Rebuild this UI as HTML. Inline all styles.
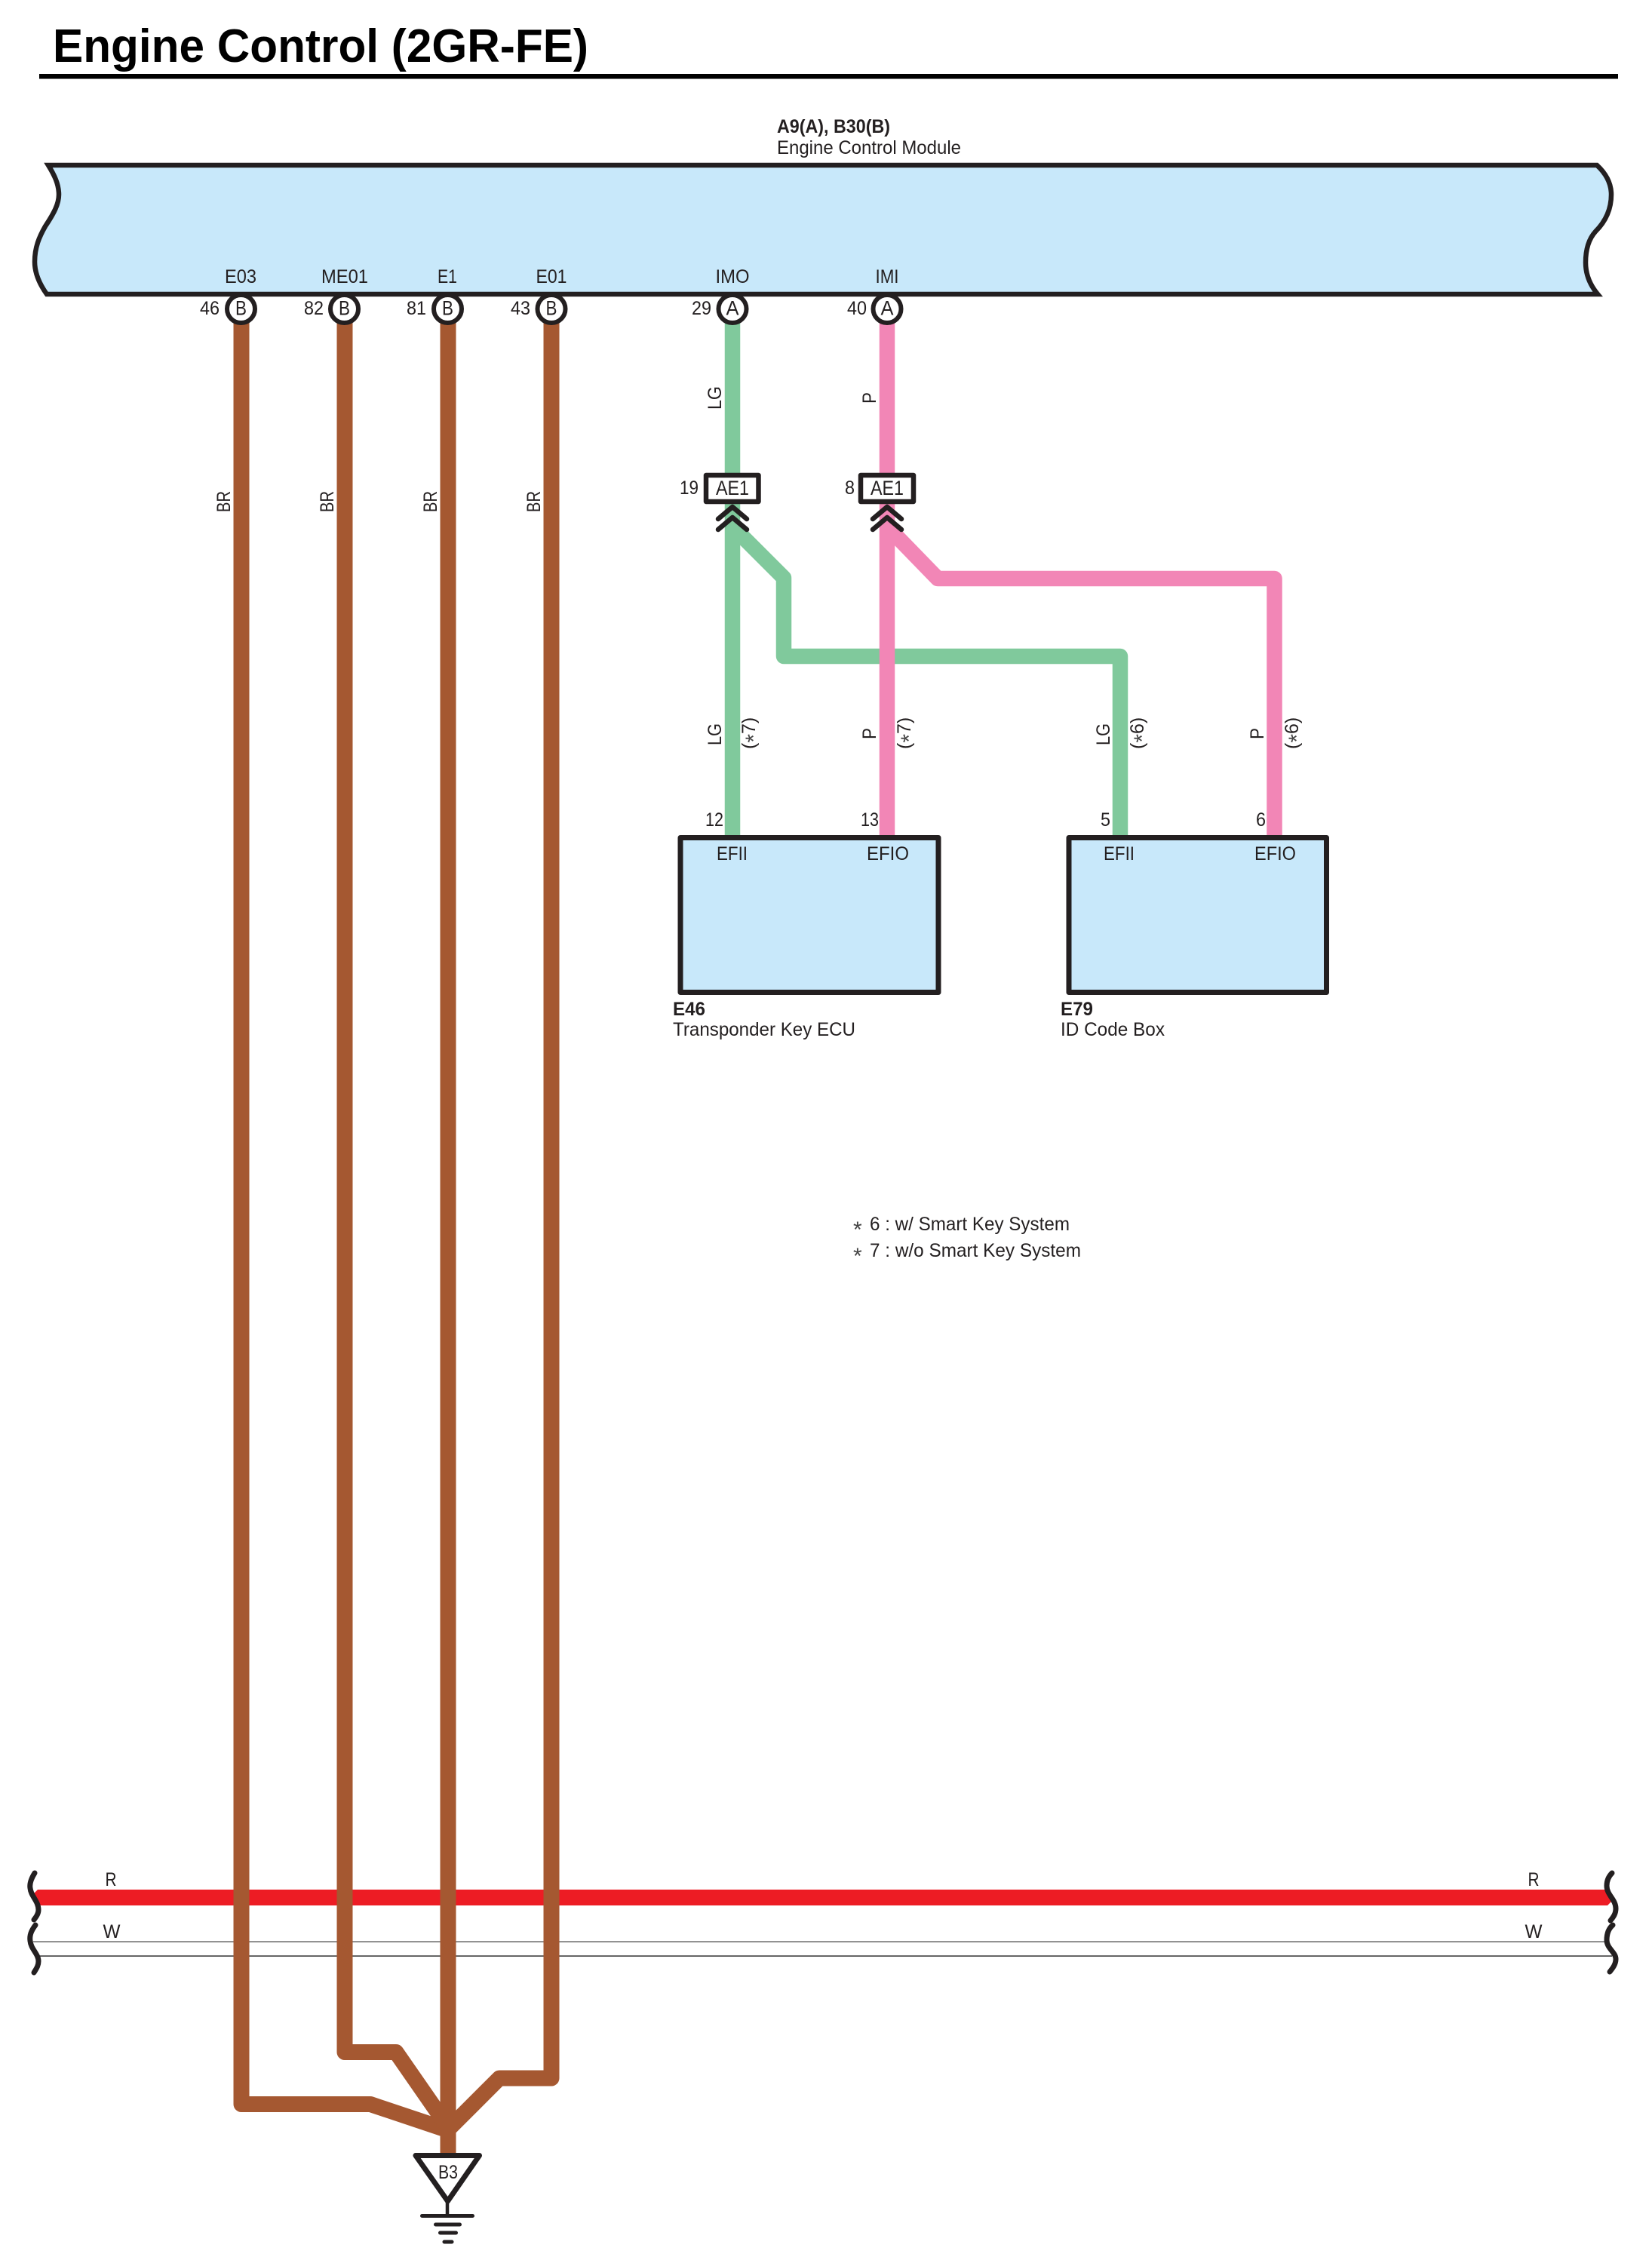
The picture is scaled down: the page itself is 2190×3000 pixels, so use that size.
<!DOCTYPE html>
<html><head><meta charset="utf-8"><title>Engine Control (2GR-FE)</title>
<style>
html,body{margin:0;padding:0;background:#fff}
svg{display:block}
text{font-family:"Liberation Sans",Arial,sans-serif;font-size:25px;fill:#231f20}
.b{font-weight:bold}
.m{text-anchor:middle}
.w{fill:none;stroke-linejoin:round;stroke-linecap:butt}
.br{stroke:#a55831;stroke-width:21}
.g{stroke:#80c99c;stroke-width:20.5}
.p{stroke:#f286b6;stroke-width:20.5}
.k{fill:none;stroke:#231f20;stroke-linecap:round;stroke-linejoin:round}
.pin{fill:#fff;stroke:#231f20;stroke-width:6}
</style></head><body>
<svg xmlns="http://www.w3.org/2000/svg" width="2190" height="3000" viewBox="0 0 2190 3000">
<rect width="2190" height="3000" fill="#fff"/>

<!-- Title -->
<text x="70" y="82" class="b" style="font-size:62px;fill:#000" textLength="710" lengthAdjust="spacingAndGlyphs">Engine Control (2GR-FE)</text>
<rect x="52" y="98" width="2093" height="6.5" fill="#000"/>

<!-- ECM -->
<text x="1030" y="176" class="b" textLength="150" lengthAdjust="spacingAndGlyphs">A9(A), B30(B)</text>
<text x="1030" y="204" textLength="244" lengthAdjust="spacingAndGlyphs">Engine Control Module</text>
<path d="M64 219 H2117 C2130 231 2136 244 2136 258 C2136 280 2126 296 2115 307 C2106 317 2102 332 2102 348 C2102 364 2108 378 2118 390 H62 C52 376 46 362 46 347 C46 328 52 314 60 300 C72 282 78 270 78 258 C78 244 72 232 64 219 Z" fill="#c8e8fa" stroke="#231f20" stroke-width="6.5" stroke-linejoin="miter"/>

<text x="319" y="375" class="m" textLength="42" lengthAdjust="spacingAndGlyphs">E03</text>
<text x="457" y="375" class="m" textLength="62" lengthAdjust="spacingAndGlyphs">ME01</text>
<text x="593" y="375" class="m" textLength="26" lengthAdjust="spacingAndGlyphs">E1</text>
<text x="731" y="375" class="m" textLength="41" lengthAdjust="spacingAndGlyphs">E01</text>
<text x="971" y="375" class="m" textLength="45" lengthAdjust="spacingAndGlyphs">IMO</text>
<text x="1176" y="375" class="m" textLength="31" lengthAdjust="spacingAndGlyphs">IMI</text>

<!-- Bus lines -->
<path d="M44 2511 L50 2505 H2130 L2137 2520 L2131 2526 H48 Z" fill="#ed1c24"/>
<rect x="44" y="2573.2" width="2084" height="1.8" fill="#808080"/>
<rect x="50" y="2592.3" width="2087" height="1.5" fill="#333"/>
<path class="k" stroke-width="7" d="M46 2483 C41 2491 39 2497 40 2503 C41 2514 51 2520 51 2532 C51 2537 48 2541 45 2545"/>
<path class="k" stroke-width="7" d="M47 2552 C41 2560 39 2566 40 2573 C41 2584 51 2590 51 2600 C51 2606 48 2610 45 2615"/>
<path class="k" stroke-width="7" d="M2137 2483 C2132 2488 2130 2494 2130 2500 C2130 2512 2142 2518 2142 2530 C2142 2537 2139 2541 2135 2546"/>
<path class="k" stroke-width="7" d="M2138 2552 C2132 2557 2130 2564 2130 2572 C2130 2583 2142 2588 2142 2597 C2142 2604 2138 2609 2134 2614"/>
<text x="147" y="2500" class="m" textLength="15" lengthAdjust="spacingAndGlyphs">R</text>
<text x="148" y="2569" class="m" textLength="23" lengthAdjust="spacingAndGlyphs">W</text>
<text x="2033" y="2500" class="m" textLength="15" lengthAdjust="spacingAndGlyphs">R</text>
<text x="2033" y="2569" class="m" textLength="23" lengthAdjust="spacingAndGlyphs">W</text>

<!-- Green / pink wires -->
<path class="w g" d="M971 420 V1107"/>
<path class="w g" d="M971 698 L1039 766 V870 H1485 V1107"/>
<path class="w p" d="M1176 420 V1107"/>
<path class="w p" d="M1176 698 L1243 767 H1689.5 V1107"/>

<!-- Brown wires -->
<path class="w br" d="M320 420 V2789.5 H491 L594 2824"/>
<path class="w br" d="M457 420 V2720.5 H525 L594 2820"/>
<path class="w br" d="M731 420 V2755 H662 L594 2823"/>
<path class="w br" d="M594 420 V2856"/>

<!-- Pins -->
<circle class="pin" cx="319.5" cy="409.5" r="18.5"/><circle class="pin" cx="456.5" cy="409.5" r="18.5"/>
<circle class="pin" cx="593.5" cy="409.5" r="18.5"/><circle class="pin" cx="731" cy="409.5" r="18.5"/>
<circle class="pin" cx="971" cy="409.5" r="18.5"/><circle class="pin" cx="1176" cy="409.5" r="18.5"/>
<text x="319.5" y="417.5" class="m" style="font-size:27px" textLength="15" lengthAdjust="spacingAndGlyphs">B</text>
<text x="456.5" y="417.5" class="m" style="font-size:27px" textLength="15" lengthAdjust="spacingAndGlyphs">B</text>
<text x="593.5" y="417.5" class="m" style="font-size:27px" textLength="15" lengthAdjust="spacingAndGlyphs">B</text>
<text x="731" y="417.5" class="m" style="font-size:27px" textLength="15" lengthAdjust="spacingAndGlyphs">B</text>
<text x="971" y="417.5" class="m" style="font-size:27px" textLength="17" lengthAdjust="spacingAndGlyphs">A</text>
<text x="1176" y="417.5" class="m" style="font-size:27px" textLength="17" lengthAdjust="spacingAndGlyphs">A</text>
<text x="265" y="417" textLength="26" lengthAdjust="spacingAndGlyphs">46</text>
<text x="403" y="417" textLength="26" lengthAdjust="spacingAndGlyphs">82</text>
<text x="539" y="417" textLength="26" lengthAdjust="spacingAndGlyphs">81</text>
<text x="677" y="417" textLength="26" lengthAdjust="spacingAndGlyphs">43</text>
<text x="917" y="417" textLength="26" lengthAdjust="spacingAndGlyphs">29</text>
<text x="1123" y="417" textLength="26" lengthAdjust="spacingAndGlyphs">40</text>

<!-- BR labels -->
<text transform="rotate(-90 305 679)" x="305" y="679" textLength="28" lengthAdjust="spacingAndGlyphs">BR</text>
<text transform="rotate(-90 442 679)" x="442" y="679" textLength="28" lengthAdjust="spacingAndGlyphs">BR</text>
<text transform="rotate(-90 579 679)" x="579" y="679" textLength="28" lengthAdjust="spacingAndGlyphs">BR</text>
<text transform="rotate(-90 716 679)" x="716" y="679" textLength="28" lengthAdjust="spacingAndGlyphs">BR</text>

<!-- Upper wire labels -->
<text transform="rotate(-90 956 543)" x="956" y="543" textLength="31" lengthAdjust="spacingAndGlyphs">LG</text>
<text transform="rotate(-90 1161 535)" x="1161" y="535" textLength="15" lengthAdjust="spacingAndGlyphs">P</text>

<!-- AE1 connectors -->
<rect x="936" y="630" width="69.5" height="35" fill="#fff" stroke="#231f20" stroke-width="6.5" stroke-linejoin="round"/>
<rect x="1141" y="630" width="70" height="35" fill="#fff" stroke="#231f20" stroke-width="6.5" stroke-linejoin="round"/>
<text x="971" y="656" class="m" textLength="44" lengthAdjust="spacingAndGlyphs" style="font-size:27px">AE1</text>
<text x="1176" y="656" class="m" textLength="44" lengthAdjust="spacingAndGlyphs" style="font-size:27px">AE1</text>
<text x="901" y="655" textLength="25" lengthAdjust="spacingAndGlyphs">19</text>
<text x="1120" y="655" textLength="13" lengthAdjust="spacingAndGlyphs">8</text>
<path class="k" stroke-width="6.5" stroke-linejoin="miter" d="M952 688 L971 672 L990 688 M952 702 L971 686 L990 702"/>
<path class="k" stroke-width="6.5" stroke-linejoin="miter" d="M1157 688 L1176 672 L1195 688 M1157 702 L1176 686 L1195 702"/>

<!-- Lower wire labels -->
<text transform="rotate(-90 956 988)" x="956" y="988" textLength="29" lengthAdjust="spacingAndGlyphs">LG</text>
<text transform="rotate(-90 1001 993)" x="1001" y="993">(<tspan dy="8" style="font-size:30px;fill:#444">*</tspan><tspan dy="-8">7)</tspan></text>
<text transform="rotate(-90 1161 980)" x="1161" y="980" textLength="15" lengthAdjust="spacingAndGlyphs">P</text>
<text transform="rotate(-90 1207 993)" x="1207" y="993">(<tspan dy="8" style="font-size:30px;fill:#444">*</tspan><tspan dy="-8">7)</tspan></text>
<text transform="rotate(-90 1471 988)" x="1471" y="988" textLength="29" lengthAdjust="spacingAndGlyphs">LG</text>
<text transform="rotate(-90 1516 993)" x="1516" y="993">(<tspan dy="8" style="font-size:30px;fill:#444">*</tspan><tspan dy="-8">6)</tspan></text>
<text transform="rotate(-90 1675 980)" x="1675" y="980" textLength="15" lengthAdjust="spacingAndGlyphs">P</text>
<text transform="rotate(-90 1721 993)" x="1721" y="993">(<tspan dy="8" style="font-size:30px;fill:#444">*</tspan><tspan dy="-8">6)</tspan></text>

<!-- Boxes -->
<rect x="902" y="1110.5" width="342" height="205" fill="#c8e8fa" stroke="#231f20" stroke-width="7" stroke-linejoin="round"/>
<rect x="1417" y="1110.5" width="341.5" height="205" fill="#c8e8fa" stroke="#231f20" stroke-width="7" stroke-linejoin="round"/>
<text x="935" y="1095" textLength="24" lengthAdjust="spacingAndGlyphs">12</text>
<text x="1141" y="1095" textLength="24" lengthAdjust="spacingAndGlyphs">13</text>
<text x="1459" y="1095" textLength="13" lengthAdjust="spacingAndGlyphs">5</text>
<text x="1665" y="1095" textLength="13" lengthAdjust="spacingAndGlyphs">6</text>
<text x="950" y="1140" textLength="41" lengthAdjust="spacingAndGlyphs">EFII</text>
<text x="1149" y="1140" textLength="56" lengthAdjust="spacingAndGlyphs">EFIO</text>
<text x="1463" y="1140" textLength="41" lengthAdjust="spacingAndGlyphs">EFII</text>
<text x="1663" y="1140" textLength="55" lengthAdjust="spacingAndGlyphs">EFIO</text>
<text x="892" y="1346" class="b" textLength="43" lengthAdjust="spacingAndGlyphs">E46</text>
<text x="892" y="1373" textLength="242" lengthAdjust="spacingAndGlyphs">Transponder Key ECU</text>
<text x="1406" y="1346" class="b" textLength="43" lengthAdjust="spacingAndGlyphs">E79</text>
<text x="1406" y="1373" textLength="138" lengthAdjust="spacingAndGlyphs">ID Code Box</text>

<!-- Notes -->
<text x="1131" y="1640" style="font-size:30px;fill:#444">*</text>
<text x="1131" y="1675" style="font-size:30px;fill:#444">*</text>
<text x="1153" y="1631" textLength="265" lengthAdjust="spacingAndGlyphs">6 : w/ Smart Key System</text>
<text x="1153" y="1666" textLength="280" lengthAdjust="spacingAndGlyphs">7 : w/o Smart Key System</text>

<!-- Ground -->
<path d="M551 2857.5 H635.5 L593.5 2918 Z" fill="#fff" stroke="#231f20" stroke-width="7" stroke-linejoin="round"/>
<text x="594" y="2888" class="m" textLength="26" lengthAdjust="spacingAndGlyphs">B3</text>
<path class="k" stroke-width="4.5" d="M593 2918 V2937"/>
<path class="k" stroke-width="5" d="M559.5 2937.5 H626.5 M577.5 2949 H609.5 M583.5 2960 H604.5 M589 2972 H599"/>
</svg>
</body></html>
